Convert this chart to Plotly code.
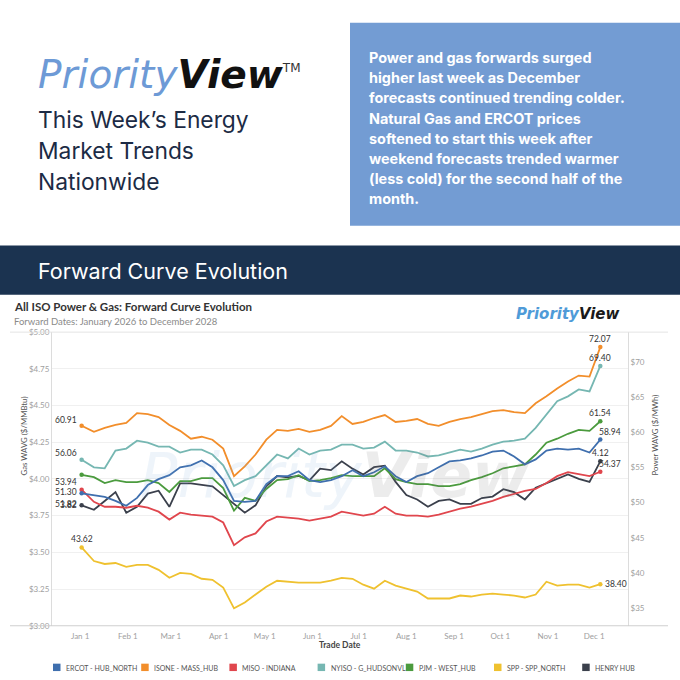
import plotly.graph_objects as go
import pandas as pd

# weekly trade dates (first print + Fridays)
trade_dates = ['2025-01-02'] + list(pd.date_range('2025-01-10', '2025-12-05', freq='7D').strftime('%Y-%m-%d'))

# power, $/MWh (right axis)
ercot = [51.30, 51.08, 50.80, 50.24, 49.54, 50.66, 52.48, 53.32, 53.88, 55.00,
         55.28, 55.98, 55.00, 53.18, 50.24, 50.10, 50.24, 52.62, 53.74, 53.74,
         54.44, 53.18, 52.90, 53.18, 53.74, 54.58, 53.74, 54.30, 55.14, 53.74,
         52.90, 53.74, 54.16, 55.00, 55.84, 55.98, 56.26, 56.68, 57.24, 57.38,
         56.54, 55.42, 56.12, 57.38, 57.66, 57.52, 57.66, 57.10, 58.94]
isone = [60.91, 60.04, 60.60, 61.02, 61.30, 62.70, 62.56, 62.14, 61.02, 60.18,
         59.06, 59.34, 58.92, 57.66, 53.74, 55.14, 56.82, 58.92, 60.32, 60.18,
         60.46, 60.04, 60.32, 60.88, 62.28, 61.16, 61.44, 62.00, 62.42, 61.44,
         61.58, 61.86, 61.16, 60.88, 61.44, 61.86, 62.14, 62.56, 62.98, 63.12,
         62.84, 62.70, 64.10, 65.08, 66.20, 67.18, 68.03, 67.89, 72.07]
miso = [51.82, 50.10, 49.40, 49.40, 49.26, 49.54, 49.26, 48.70, 47.58, 48.56,
        48.28, 48.14, 48.00, 47.16, 43.94, 45.06, 45.62, 47.30, 48.00, 47.86,
        47.72, 47.44, 47.72, 48.00, 48.70, 48.42, 48.14, 48.42, 49.40, 48.42,
        48.14, 48.14, 48.00, 48.28, 48.70, 49.12, 49.40, 49.82, 50.24, 50.80,
        51.22, 51.64, 51.92, 52.76, 53.74, 54.30, 54.02, 53.74, 54.37]
nyiso = [56.06, 55.00, 54.86, 57.38, 57.66, 58.78, 58.50, 57.94, 57.94, 57.10,
         57.52, 57.52, 56.82, 55.28, 52.34, 53.18, 53.74, 55.28, 56.82, 56.26,
         57.66, 56.82, 57.38, 57.52, 58.22, 58.22, 57.66, 57.80, 58.64, 57.38,
         57.38, 57.10, 56.54, 56.68, 57.10, 57.52, 57.24, 57.66, 58.22, 58.64,
         58.78, 59.06, 60.60, 62.56, 64.38, 65.08, 66.06, 65.78, 69.40]
pjm = [53.94, 53.60, 52.76, 53.18, 52.90, 52.90, 53.18, 52.76, 51.50, 53.04,
       53.04, 53.46, 53.46, 52.06, 48.84, 50.66, 50.24, 51.92, 53.18, 53.32,
       53.88, 53.04, 53.18, 53.46, 53.88, 53.74, 53.74, 53.74, 54.86, 53.32,
       52.90, 52.62, 52.62, 52.34, 52.34, 52.62, 53.18, 53.60, 54.16, 54.86,
       55.14, 55.42, 56.82, 58.50, 59.06, 59.76, 60.32, 60.18, 61.54]
spp = [43.62, 41.69, 41.27, 41.41, 40.85, 41.13, 41.13, 40.43, 39.31, 40.01,
       39.87, 39.17, 39.03, 37.91, 34.97, 35.81, 36.93, 38.05, 38.89, 38.75,
       38.61, 38.61, 38.61, 38.89, 39.31, 39.17, 38.33, 37.77, 38.89, 38.19,
       37.77, 37.35, 36.37, 36.37, 36.37, 36.79, 36.65, 36.93, 37.07, 36.93,
       36.79, 36.51, 36.93, 38.75, 38.19, 38.33, 38.33, 37.91, 38.40]
# gas, $/MMBtu (left axis)
henry = [3.82, 3.79, 3.85, 3.91, 3.77, 3.81, 3.90, 3.92, 3.81, 3.97,
         3.97, 3.96, 3.95, 3.89, 3.83, 3.77, 3.82, 3.95, 4.02, 4.01,
         4.02, 3.99, 4.07, 4.06, 4.12, 4.07, 4.03, 4.08, 4.09, 3.98,
         3.89, 3.86, 3.81, 3.85, 3.86, 3.83, 3.83, 3.87, 3.88, 3.93,
         3.91, 3.86, 3.94, 3.97, 4.00, 4.03, 4.00, 3.98, 4.12]

series_names = ['ERCOT - HUB_NORTH', 'ISONE - MASS_HUB', 'MISO - INDIANA', 'NYISO - G_HUDSONVL',
                'PJM - WEST_HUB', 'SPP - SPP_NORTH', 'HENRY HUB']
gas_ticks = [3.00, 3.25, 3.50, 3.75, 4.00, 4.25, 4.50, 4.75, 5.00]
power_ticks = [35, 40, 45, 50, 55, 60, 65, 70]
month_ticks = ['2025-01-01', '2025-02-01', '2025-03-01', '2025-04-01', '2025-05-01', '2025-06-01',
               '2025-07-01', '2025-08-01', '2025-09-01', '2025-10-01', '2025-11-01', '2025-12-01']

blurb = ["Power and gas forwards surged",
         "higher last week as December",
         "forecasts continued trending colder.",
         "Natural Gas and ERCOT prices",
         "softened to start this week after",
         "weekend forecasts trended warmer",
         "(less cold) for the second half of the",
         "month."]
header_lines = ["This Week\u2019s Energy", "Market Trends", "Nationwide"]

W = 680
def px(x): return x / W
def py(y): return 1 - y / W

colors = {'ERCOT - HUB_NORTH': '#3f6fae', 'ISONE - MASS_HUB': '#f28e2b', 'MISO - INDIANA': '#e0464d',
          'NYISO - G_HUDSONVL': '#76b7b2', 'PJM - WEST_HUB': '#4b9b3e', 'SPP - SPP_NORTH': '#efc12f',
          'HENRY HUB': '#3b404c'}
values = dict(zip(series_names, [ercot, isone, miso, nyiso, pjm, spp, henry]))
# label placement: (xanchor, xshift, yshift)
start_pos = {'ERCOT - HUB_NORTH': ('right', -3, 1), 'ISONE - MASS_HUB': ('right', -3, 6),
             'MISO - INDIANA': ('right', -3, -14), 'NYISO - G_HUDSONVL': ('right', -3, 7),
             'PJM - WEST_HUB': ('right', -3, -7), 'SPP - SPP_NORTH': ('center', 0, 8),
             'HENRY HUB': ('right', -3, 0)}
end_pos = {'ERCOT - HUB_NORTH': ('center', 10, 8), 'ISONE - MASS_HUB': ('center', 0, 8),
           'MISO - INDIANA': ('center', 10, 8), 'NYISO - G_HUDSONVL': ('center', 0, 8),
           'PJM - WEST_HUB': ('center', 0, 8), 'SPP - SPP_NORTH': ('left', 3, 0),
           'HENRY HUB': ('center', 0, 8)}

fig = go.Figure()
draw_order = ['SPP - SPP_NORTH', 'MISO - INDIANA', 'PJM - WEST_HUB', 'ERCOT - HUB_NORTH',
              'NYISO - G_HUDSONVL', 'ISONE - MASS_HUB', 'HENRY HUB']
for name in draw_order:
    vals = values[name]
    ax = 'y' if name == 'HENRY HUB' else 'y2'
    fig.add_trace(go.Scatter(x=trade_dates, y=vals, mode='lines', yaxis=ax, name=name,
                             line=dict(color=colors[name], width=1.8), showlegend=False))
    fig.add_trace(go.Scatter(x=[trade_dates[0], trade_dates[-1]], y=[vals[0], vals[-1]],
                             mode='markers', yaxis=ax, showlegend=False,
                             marker=dict(color=colors[name], size=4.5)))

annotations = []
lab_font = dict(family='Lato', size=8.5, color='#333333')
for name in series_names:
    vals = values[name]
    yref = 'y' if name == 'HENRY HUB' else 'y2'
    xa, xs, ys = start_pos[name]
    annotations.append(dict(x=trade_dates[0], y=vals[0], xref='x', yref=yref, text=f"{vals[0]:.2f}",
                            showarrow=False, xanchor=xa, yanchor='middle', xshift=xs, yshift=ys, font=lab_font))
    xa, xs, ys = end_pos[name]
    annotations.append(dict(x=trade_dates[-1], y=vals[-1], xref='x', yref=yref, text=f"{vals[-1]:.2f}",
                            showarrow=False, xanchor=xa, yanchor='middle', xshift=xs, yshift=ys, font=lab_font))

shapes = [
    dict(type='rect', xref='paper', yref='paper', x0=px(350), x1=1, y0=py(224), y1=py(18),
         fillcolor='#739cd3', line=dict(width=0), layer='below'),
    dict(type='rect', xref='paper', yref='paper', x0=0, x1=1, y0=py(294), y1=py(244),
         fillcolor='#1b3350', line=dict(width=0), layer='below'),
    dict(type='line', xref='paper', yref='paper', x0=px(10), x1=px(668), y0=py(332), y1=py(332),
         line=dict(color='#e4e4e4', width=1)),
    dict(type='line', xref='paper', yref='paper', x0=px(10), x1=px(668), y0=py(630), y1=py(630),
         line=dict(color='#cfcfcf', width=1.2)),
]

# header: logo + title
annotations.append(dict(xref='paper', yref='paper', x=px(36), y=py(71), xanchor='left', yanchor='middle',
                        showarrow=False,
                        text="<i><span style='color:#6d9ad6'>Priority</span><b><span style='color:#111111'>View</span></b></i>"
                             "<sup><span style='color:#333333;font-size:12px'>TM</span></sup>",
                        font=dict(family='DejaVu Sans', size=39)))
for i, line in enumerate(header_lines):
    annotations.append(dict(xref='paper', yref='paper', x=px(36), y=py(116 + i * 31.5), xanchor='left',
                            yanchor='middle', showarrow=False, text=line,
                            font=dict(family='Inter', size=22.8, color='#1c2b45')))
for i, line in enumerate(blurb):
    annotations.append(dict(xref='paper', yref='paper', x=px(367), y=py(53.5 + i * 20.4), xanchor='left',
                            yanchor='middle', showarrow=False, text=f"<b>{line}</b>",
                            font=dict(family='Inter', size=14.4, color='white')))
annotations.append(dict(xref='paper', yref='paper', x=px(36), y=py(270), xanchor='left', yanchor='middle',
                        showarrow=False, text="Forward Curve Evolution",
                        font=dict(family='Inter', size=21.5, color='white')))

# chart titles
annotations.append(dict(xref='paper', yref='paper', x=px(12), y=py(306), xanchor='left', yanchor='middle',
                        showarrow=False, text="<b>All ISO Power & Gas: Forward Curve Evolution</b>",
                        font=dict(family='Lato', size=11.5, color='#333333')))
annotations.append(dict(xref='paper', yref='paper', x=px(12), y=py(321), xanchor='left', yanchor='middle',
                        showarrow=False, text="Forward Dates: January 2026 to December 2028",
                        font=dict(family='Lato', size=9.5, color='#8a8a8a')))
annotations.append(dict(xref='paper', yref='paper', x=px(622), y=py(314), xanchor='right', yanchor='middle',
                        showarrow=False,
                        text="<i><b><span style='color:#4f9bd8'>Priority</span><span style='color:#1a1a1a'>View</span></b></i>",
                        font=dict(family='DejaVu Sans', size=15)))
# faint watermark
annotations.append(dict(xref='paper', yref='paper', x=px(335), y=py(478), xanchor='center', yanchor='middle',
                        showarrow=False,
                        text="<i><span style='color:rgba(120,170,220,0.13)'>Priority</span>"
                             "<b><span style='color:rgba(110,110,110,0.13)'>View</span></b></i>",
                        font=dict(family='DejaVu Sans', size=62)))

# axis titles
annotations.append(dict(xref='paper', yref='paper', x=px(17), y=py(480), textangle=-90, showarrow=False,
                        text="Gas WAVG ($/MMBtu)", font=dict(family='Lato', size=7.8, color='#555555')))
annotations.append(dict(xref='paper', yref='paper', x=px(662), y=py(480), textangle=-90, showarrow=False,
                        text="Power WAVG ($/MWh)", font=dict(family='Lato', size=7.8, color='#555555')))
annotations.append(dict(xref='paper', yref='paper', x=px(340), y=py(657), showarrow=False,
                        text="<b>Trade Date</b>", font=dict(family='Lato', size=8.5, color='#444444')))

# legend
for i, name in enumerate(series_names):
    x0 = 53 + i * 88.2
    shapes.append(dict(type='rect', xref='paper', yref='paper', x0=px(x0), x1=px(x0 + 7.5),
                       y0=py(676), y1=py(668.5), fillcolor=colors[name], line=dict(width=0)))
    annotations.append(dict(xref='paper', yref='paper', x=px(x0 + 11), y=py(672.5), xanchor='left',
                            yanchor='middle', showarrow=False, text=name,
                            font=dict(family='Lato', size=7, color='#555555')))

tick_font = dict(family='Lato', size=8, color='#a0a0a0')
fig.update_layout(
    width=680, height=680, margin=dict(l=0, r=0, t=0, b=0),
    paper_bgcolor='white', plot_bgcolor='white', showlegend=False,
    xaxis=dict(domain=[px(52), px(628)], type='date', range=['2024-12-13 18:00', '2025-12-23'],
               tickvals=month_ticks, tickformat='%b %-d', tickfont=tick_font, ticklabelstandoff=4,
               showgrid=False, zeroline=False, showline=False, ticks=''),
    yaxis=dict(domain=[py(630), py(332)], range=[3, 5], tickvals=gas_ticks,
               ticktext=[f"${v:.2f}" for v in gas_ticks],
               tickfont=tick_font, gridcolor='#f0f0f0', zeroline=False, showline=True, linecolor='#dcdcdc',
               ticks=''),
    yaxis2=dict(overlaying='y', side='right', anchor='x', range=[32.5, 74.2], tickvals=power_ticks,
                ticktext=[f"${v}" for v in power_ticks], tickfont=tick_font, showgrid=False,
                zeroline=False, showline=True, linecolor='#dcdcdc', ticks=''),
    shapes=shapes, annotations=annotations,
)

fig.write_html("out.html", config={'displayModeBar': False},
               post_script="document.body.style.margin='0';document.body.style.overflow='hidden';")
